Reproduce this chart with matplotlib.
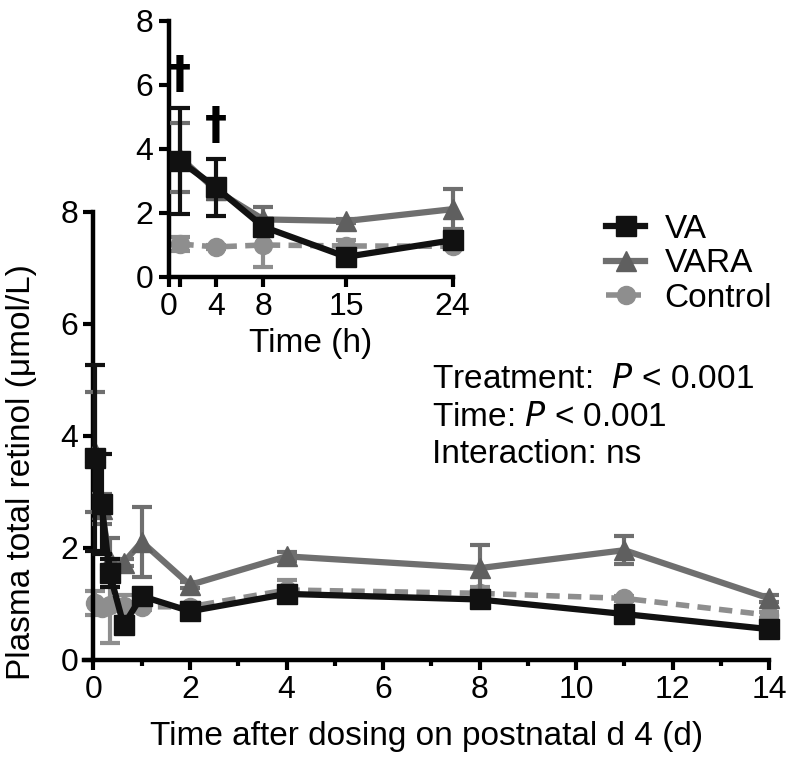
import matplotlib
matplotlib.use("Agg")
import matplotlib.pyplot as plt
from matplotlib.lines import Line2D

plt.rcParams['font.family'] = ['Liberation Sans', 'DejaVu Sans']

# ---- data ----
hours = [1, 4, 8, 15, 24]
days = [1/24, 4/24, 8/24, 15/24, 1, 2, 4, 8, 11, 14]

va_mean = [3.61, 2.79, 1.56, 0.62, 1.14, 0.87, 1.18, 1.08, 0.82, 0.55]
va_err = [1.66, 0.89, 0.25, 0.08, 0.08, 0.06, 0.08, 0.08, 0.06, 0.05]
vara_mean = [3.72, 2.70, 1.79, 1.74, 2.11, 1.34, 1.85, 1.64, 1.96, 1.10]
vara_err = [1.07, 0.27, 0.38, 0.06, 0.63, 0.06, 0.08, 0.41, 0.25, 0.06]
ctrl_mean = [1.02, 0.93, 0.99, 0.96, 0.95, 0.95, 1.25, 1.19, 1.10, 0.80]
ctrl_err = [0.21, 0.06, 0.68, 0.20, 0.06, 0.06, 0.18, 0.12, 0.05, 0.05]

series_names = ['VA', 'VARA', 'Control']
dagger_hours = [1, 4]
dagger_y = [6.3, 4.7]

main_xticks = [0, 2, 4, 6, 8, 10, 12, 14]
main_yticks = [0, 2, 4, 6, 8]
inset_xticks = [0, 4, 8, 15, 24]
inset_yticks = [0, 2, 4, 6, 8]
stats_lines = ['Treatment:  $\\it{P}$ < 0.001', 'Time: $\\it{P}$ < 0.001', 'Interaction: ns']

C_VA = '#111111'
C_VARA = '#6f6f6f'
C_CTRL = '#8e8e8e'
FS = 24

fig = plt.figure(figsize=(7.96, 7.66), dpi=100)

def style_axes(ax):
    for s in ['top', 'right']:
        ax.spines[s].set_visible(False)
    for s in ['left', 'bottom']:
        ax.spines[s].set_linewidth(3.2)
    ax.tick_params(which='major', length=7, width=3, labelsize=FS - 1, pad=4)
    ax.tick_params(which='minor', length=4, width=3)


def draw_series(ax, x, n):
    sl = slice(0, n)
    kw = dict(capsize=7, capthick=3, elinewidth=3, clip_on=False)
    ax.errorbar(x, ctrl_mean[sl], yerr=ctrl_err[sl], color=C_CTRL, ecolor=C_CTRL,
                lw=4, ls=(0, (2.4, 1.5)), marker='o', ms=13, zorder=2, **kw)
    ax.errorbar(x, vara_mean[sl], yerr=vara_err[sl], color=C_VARA, ecolor=C_VARA,
                lw=4.5, marker='^', ms=15, mfc='#5f5f5f', mec='#5f5f5f', zorder=3, **kw)
    ax.errorbar(x, va_mean[sl], yerr=va_err[sl], color=C_VA, ecolor=C_VA,
                lw=4.5, marker='s', ms=14, zorder=4, **kw)


# ---- main axes ----
ax = fig.add_axes([0.1053, 0.1384, 0.861, 0.585])
style_axes(ax)
draw_series(ax, days, 10)
ax.set_xlim(-0.2, 14)
ax.set_ylim(0, 8)
ax.spines['left'].set_position(('data', 0))
ax.spines['left'].set_bounds(0, 8)
ax.set_xticks(main_xticks)
ax.set_xticks(range(1, 14, 2), minor=True)
ax.set_yticks(main_yticks)
ax.set_xlabel('Time after dosing on postnatal d 4 (d)', fontsize=FS, labelpad=11)
ax.set_ylabel('Plasma total retinol (\u03bcmol/L)', fontsize=FS)
ax.yaxis.set_label_coords(-0.068, 0.42)

for i, t in enumerate(stats_lines):
    ax.text(0.508, 0.625 - i * 0.083, t, transform=ax.transAxes, fontsize=FS,
            ha='left', va='center')

# legend
handles = [
    Line2D([], [], color=C_VA, lw=4.5, marker='s', ms=14),
    Line2D([], [], color=C_VARA, lw=4.5, marker='^', ms=15, mfc='#5f5f5f', mec='#5f5f5f'),
    Line2D([], [], color=C_CTRL, lw=4, ls=(0, (2.4, 1.5)), marker='o', ms=13),
]
fig.legend(handles, series_names, loc='upper left', bbox_to_anchor=(0.745, 0.738),
           frameon=False, fontsize=FS, handlelength=1.15, handletextpad=0.6,
           labelspacing=0.1, borderaxespad=0)

# ---- inset ----
axi = fig.add_axes([0.2117, 0.6388, 0.357, 0.3342])
style_axes(axi)
draw_series(axi, hours, 5)
axi.set_xlim(0, 24)
axi.set_ylim(0, 8)
axi.set_xticks(inset_xticks)
axi.set_xticks([1], minor=True)
axi.tick_params(which='minor', length=7)
axi.set_yticks(inset_yticks)
axi.set_xlabel('Time (h)', fontsize=FS, labelpad=4)
for h, y in zip(dagger_hours, dagger_y):
    axi.text(h, y, '\u2020', fontsize=32, fontweight='bold', ha='center', va='center',
             family=['DejaVu Sans'])

fig.savefig('out.png', dpi=100)
